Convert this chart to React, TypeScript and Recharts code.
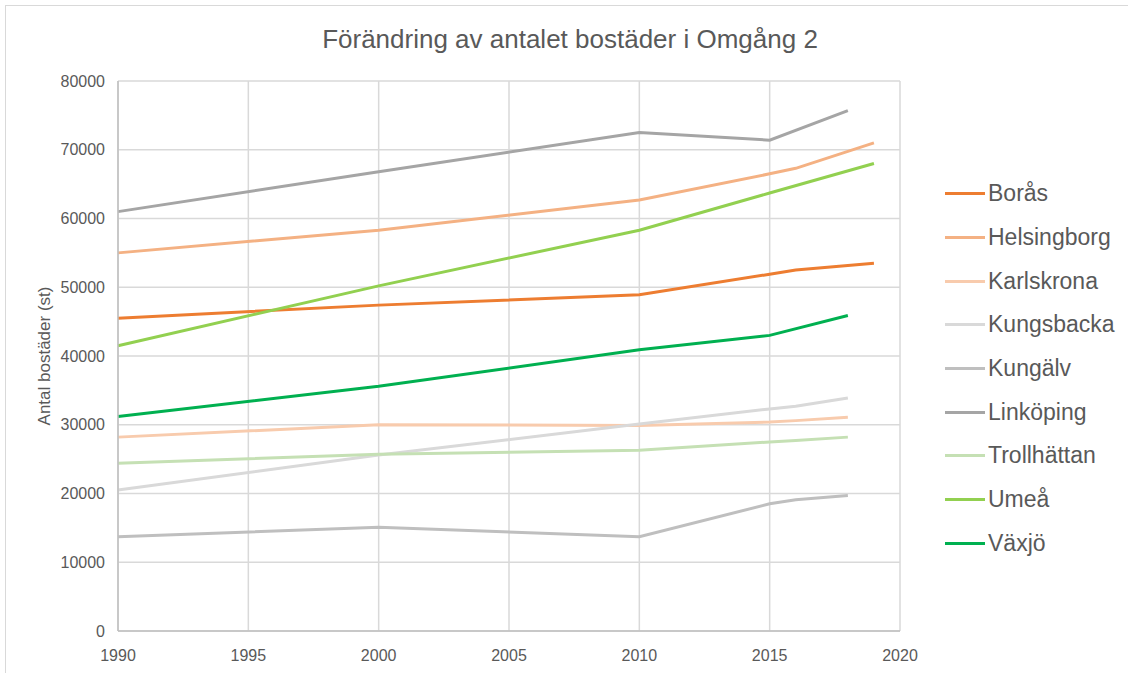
import { CartesianGrid, Label, Line, LineChart, XAxis, YAxis } from 'recharts';

const years = [1990, 2000, 2010, 2015, 2016, 2018, 2019];

const boras = [45500, 47400, 48900, 51900, 52500, null, 53500];
const helsingborg = [55000, 58300, 62700, 66500, 67300, null, 71000];
const karlskrona = [28200, 30000, 29900, 30400, 30600, 31100, null];
const kungsbacka = [20500, 25600, 30100, 32300, 32700, 33900, null];
const kungalv = [13700, 15100, 13700, 18500, 19100, 19700, null];
const linkoping = [61000, 66800, 72500, 71400, null, 75700, null];
const trollhattan = [24400, 25700, 26300, 27500, 27700, 28200, null];
const umea = [41500, 50200, 58300, 63700, null, null, 68000];
const vaxjo = [31200, 35600, 40900, 43000, null, 45900, null];

const xTicks = [1990, 1995, 2000, 2005, 2010, 2015, 2020];
const yTicks = [0, 10000, 20000, 30000, 40000, 50000, 60000, 70000, 80000];

const series = [
  { key: 'boras', name: 'Borås', color: '#ED7D31', values: boras },
  { key: 'helsingborg', name: 'Helsingborg', color: '#F4B183', values: helsingborg },
  { key: 'karlskrona', name: 'Karlskrona', color: '#F8CBAD', values: karlskrona },
  { key: 'kungsbacka', name: 'Kungsbacka', color: '#D9D9D9', values: kungsbacka },
  { key: 'kungalv', name: 'Kungälv', color: '#BFBFBF', values: kungalv },
  { key: 'linkoping', name: 'Linköping', color: '#A5A5A5', values: linkoping },
  { key: 'trollhattan', name: 'Trollhättan', color: '#C5E0B4', values: trollhattan },
  { key: 'umea', name: 'Umeå', color: '#92D050', values: umea },
  { key: 'vaxjo', name: 'Växjö', color: '#00B050', values: vaxjo },
];

const data = years.map((year, i) => {
  const row: Record<string, number | null> = { year };
  series.forEach((s) => {
    row[s.key] = s.values[i];
  });
  return row;
});

const font = '"Liberation Sans", Arial, sans-serif';
const textColor = '#595959';
const gridColor = '#D9D9D9';
const axisColor = '#BFBFBF';

const App = () => {
  return (
    <div style={{ position: 'fixed', left: 0, top: 0, width: 1128, height: 673, background: '#fff', fontFamily: font, overflow: 'hidden' }}>
      <div
        style={{
          position: 'absolute',
          left: 5,
          top: 5,
          width: 1200,
          height: 700,
          border: `1.5px solid ${gridColor}`,
        }}
      />
      <div
        style={{
          position: 'absolute',
          left: 0,
          width: 1140,
          top: 24,
          textAlign: 'center',
          fontSize: 26,
          color: textColor,
        }}
      >
        Förändring av antalet bostäder i Omgång 2
      </div>
      <LineChart width={1128} height={673} data={data} margin={{ top: 81, right: 228, bottom: 12, left: 24 }}>
        <CartesianGrid stroke={gridColor} strokeWidth={1.5} />
        <XAxis
          dataKey="year"
          type="number"
          domain={[1990, 2020]}
          ticks={xTicks}
          height={30}
          tickLine={false}
          axisLine={{ stroke: axisColor, strokeWidth: 1.5 }}
          tick={{ fontSize: 16, fill: textColor, fontFamily: font }}
          tickMargin={13}
        />
        <YAxis
          type="number"
          domain={[0, 80000]}
          ticks={yTicks}
          width={94}
          tickLine={false}
          axisLine={{ stroke: axisColor, strokeWidth: 1.5 }}
          tick={{ fontSize: 16, fill: textColor, fontFamily: font }}
          tickMargin={7}
        >
          <Label
            value="Antal bostäder (st)"
            angle={-90}
            position="insideLeft"
            offset={20}
            style={{ textAnchor: 'middle', fontSize: 17, fill: textColor, fontFamily: font }}
          />
        </YAxis>
        {series.map((s) => (
          <Line
            key={s.key}
            type="linear"
            dataKey={s.key}
            name={s.name}
            stroke={s.color}
            strokeWidth={3}
            dot={false}
            connectNulls
            isAnimationActive={false}
          />
        ))}
      </LineChart>
      <div style={{ position: 'absolute', left: 945, top: 172 }}>
        {series.map((s) => (
          <div key={s.key} style={{ display: 'flex', alignItems: 'center', height: 43.7 }}>
            <div style={{ width: 40, height: 3, background: s.color, marginRight: 3 }} />
            <span style={{ fontSize: 23, color: textColor }}>{s.name}</span>
          </div>
        ))}
      </div>
    </div>
  );
};

export default App;
